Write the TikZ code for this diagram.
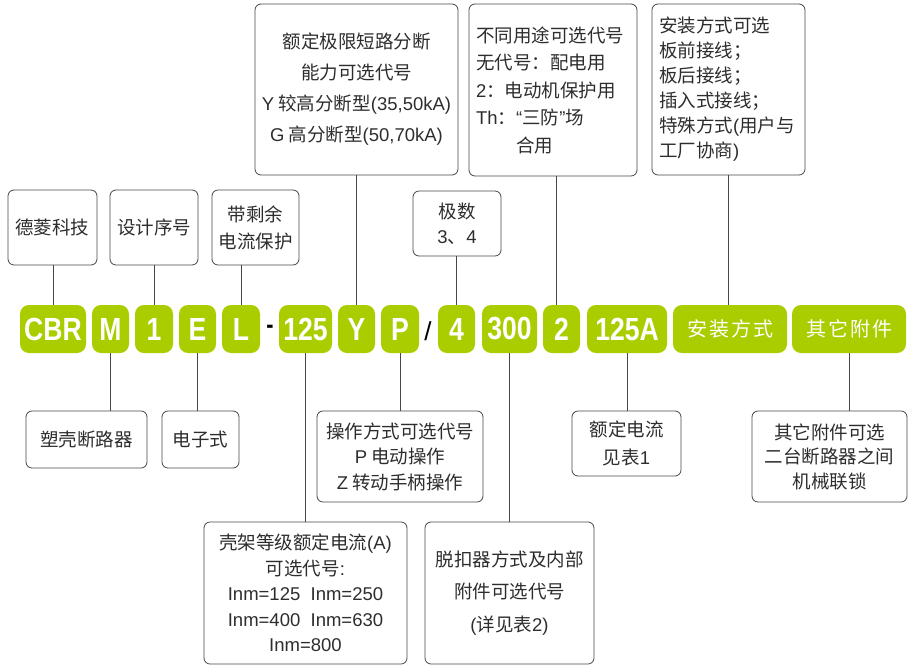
\documentclass[tikz,border=0pt]{standalone}
\usepackage{fontspec}
\setmainfont{Noto Sans CJK SC}
\newfontfamily\latin{Liberation Sans}
\newfontfamily\codefont[FakeStretch=0.83]{Liberation Sans Bold}
\newfontfamily\codecjk[LetterSpace=10]{Noto Sans CJK SC}
\newcommand{\lat}[1]{{\latin #1}}
\definecolor{codegreen}{RGB}{170,205,0}
\definecolor{linegray}{RGB}{70,70,70}
\definecolor{textgray}{RGB}{45,45,45}

\begin{document}
\begin{tikzpicture}[x=1pt, y=-1pt,
    code/.style={fill=codegreen, text=white, rounded corners=9pt, minimum height=48pt, inner sep=0pt, font=\codefont\fontsize{32}{32}\selectfont},
    codezh/.style={code, font=\codecjk\fontsize{20}{20}\selectfont},
    info/.style={draw=linegray, line width=0.8pt, rounded corners=6pt, text=textgray, inner sep=0pt, align=center},
    infoleft/.style={info, align=left, inner xsep=7pt},
    conn/.style={draw=linegray, line width=0.8pt}]
\useasboundingbox (0,0) rectangle (913,665);

% code row
\node[code, minimum width=66pt] (CBR) at (53,329) {CBR};
\node[code, minimum width=37pt] (M) at (110.5,329) {M};
\node[code, minimum width=38pt] (one) at (154,329) {1};
\node[code, minimum width=37pt] (E) at (197.5,329) {E};
\node[code, minimum width=38pt] (L) at (241,329) {L};
\node[text=black, font=\codefont\fontsize{26}{26}\selectfont] (dash) at (270,329) {-};
\node[code, minimum width=53pt] (amp) at (305.5,329) {125};
\node[code, minimum width=37pt] (Y) at (356.5,329) {Y};
\node[code, minimum width=38pt] (P) at (400,329) {P};
\node[text=black, font=\latin\fontsize{26}{26}\selectfont] (slash) at (428,331) {/};
\node[code, minimum width=37pt] (four) at (456.5,329) {4};
\node[code, minimum width=55pt] (trip) at (509.5,329) {300};
\node[code, minimum width=37pt] (two) at (561.5,329) {2};
\node[code, minimum width=80pt] (rated) at (627,329) {125A};
\node[codezh, minimum width=114pt] (inst) at (730,329) {安装方式};
\node[codezh, minimum width=114pt] (acc) at (849,329) {其它附件};

% boxes above
\node[info, minimum width=89pt, minimum height=75pt, font=\fontsize{18.5}{27}\selectfont] (brand) at (52.5,227.5) {德菱科技};
\node[info, minimum width=88pt, minimum height=75pt, font=\fontsize{18.5}{27}\selectfont] (serial) at (154,227.5) {设计序号};
\node[info, minimum width=87pt, minimum height=75pt, font=\fontsize{18.5}{27}\selectfont] (rcd) at (255.5,227.5) {带剩余\\电流保护};
\node[info, minimum width=203pt, minimum height=171pt, font=\fontsize{18.5}{31}\selectfont] (brk) at (356.5,89.5) {额定极限短路分断\\能力可选代号\\\lat{Y} 较高分断型\lat{(35,50kA)}\\\lat{G} 高分断型\lat{(50,70kA)}};
\node[info, minimum width=88pt, minimum height=65pt, font=\fontsize{18.5}{25}\selectfont] (poles) at (457,223.5) {极数\\\lat{3}、\lat{4}};
\node[infoleft, text width=154pt, minimum height=172pt, font=\fontsize{18.5}{27.5}\selectfont] (use) at (553,90) {不同用途可选代号\\无代号：配电用\\\lat{2}：电动机保护用\\\lat{Th}：\lat{“}三防\lat{”}场\\\hspace*{40pt}合用};
\node[infoleft, text width=139pt, minimum height=171pt, font=\fontsize{18.5}{25}\selectfont] (mount) at (728.5,89.5) {安装方式可选\\板前接线；\\板后接线；\\插入式接线；\\特殊方式\lat{(}用户与\\工厂协商\lat{)}};

% boxes below
\node[info, minimum width=121pt, minimum height=57pt, font=\fontsize{18.5}{27}\selectfont] (mccb) at (86.5,439.5) {塑壳断路器};
\node[info, minimum width=77pt, minimum height=57pt, font=\fontsize{18.5}{27}\selectfont] (elec) at (200.5,439.5) {电子式};
\node[info, minimum width=166pt, minimum height=91pt, font=\fontsize{18.5}{25.5}\selectfont] (oper) at (400,456.5) {操作方式可选代号\\\lat{P} 电动操作\\\lat{Z} 转动手柄操作};
\node[info, minimum width=203pt, minimum height=142pt, font=\fontsize{18.5}{25.5}\selectfont] (frame) at (305.5,593) {壳架等级额定电流\lat{(A)}\\可选代号\lat{:}\\\lat{Inm=125\ \ Inm=250}\\\lat{Inm=400\ \ Inm=630}\\\lat{Inm=800}};
\node[info, minimum width=169pt, minimum height=142pt, font=\fontsize{18.5}{32.5}\selectfont] (tripx) at (509.5,593) {脱扣器方式及内部\\附件可选代号\\\lat{(}详见表\lat{2)}};
\node[info, minimum width=109pt, minimum height=65pt, font=\fontsize{18.5}{27.5}\selectfont] (tab) at (626.5,443.5) {额定电流\\见表\lat{1}};
\node[info, minimum width=155pt, minimum height=91pt, font=\fontsize{18.5}{24.5}\selectfont] (lock) at (829.5,456.5) {其它附件可选\\二台断路器之间\\机械联锁};

% connectors
\draw[conn] (CBR.north) -- (CBR.north |- brand.south);
\draw[conn] (one.north) -- (one.north |- serial.south);
\draw[conn] (L.north) -- (L.north |- rcd.south);
\draw[conn] (Y.north) -- (Y.north |- brk.south);
\draw[conn] (four.north) -- (four.north |- poles.south);
\draw[conn] ([xshift=3pt]use.south) -- ([xshift=3pt]use.south |- two.north);
\draw[conn] (mount.south) -- (mount.south |- inst.north);
\draw[conn] (M.south) -- (M.south |- mccb.north);
\draw[conn] (E.south) -- (E.south |- elec.north);
\draw[conn] (amp.south) -- (amp.south |- frame.north);
\draw[conn] (P.south) -- (P.south |- oper.north);
\draw[conn] (trip.south) -- (trip.south |- tripx.north);
\draw[conn] (rated.south) -- (rated.south |- tab.north);
\draw[conn] (acc.south) -- (acc.south |- lock.north);
\end{tikzpicture}
\end{document}
